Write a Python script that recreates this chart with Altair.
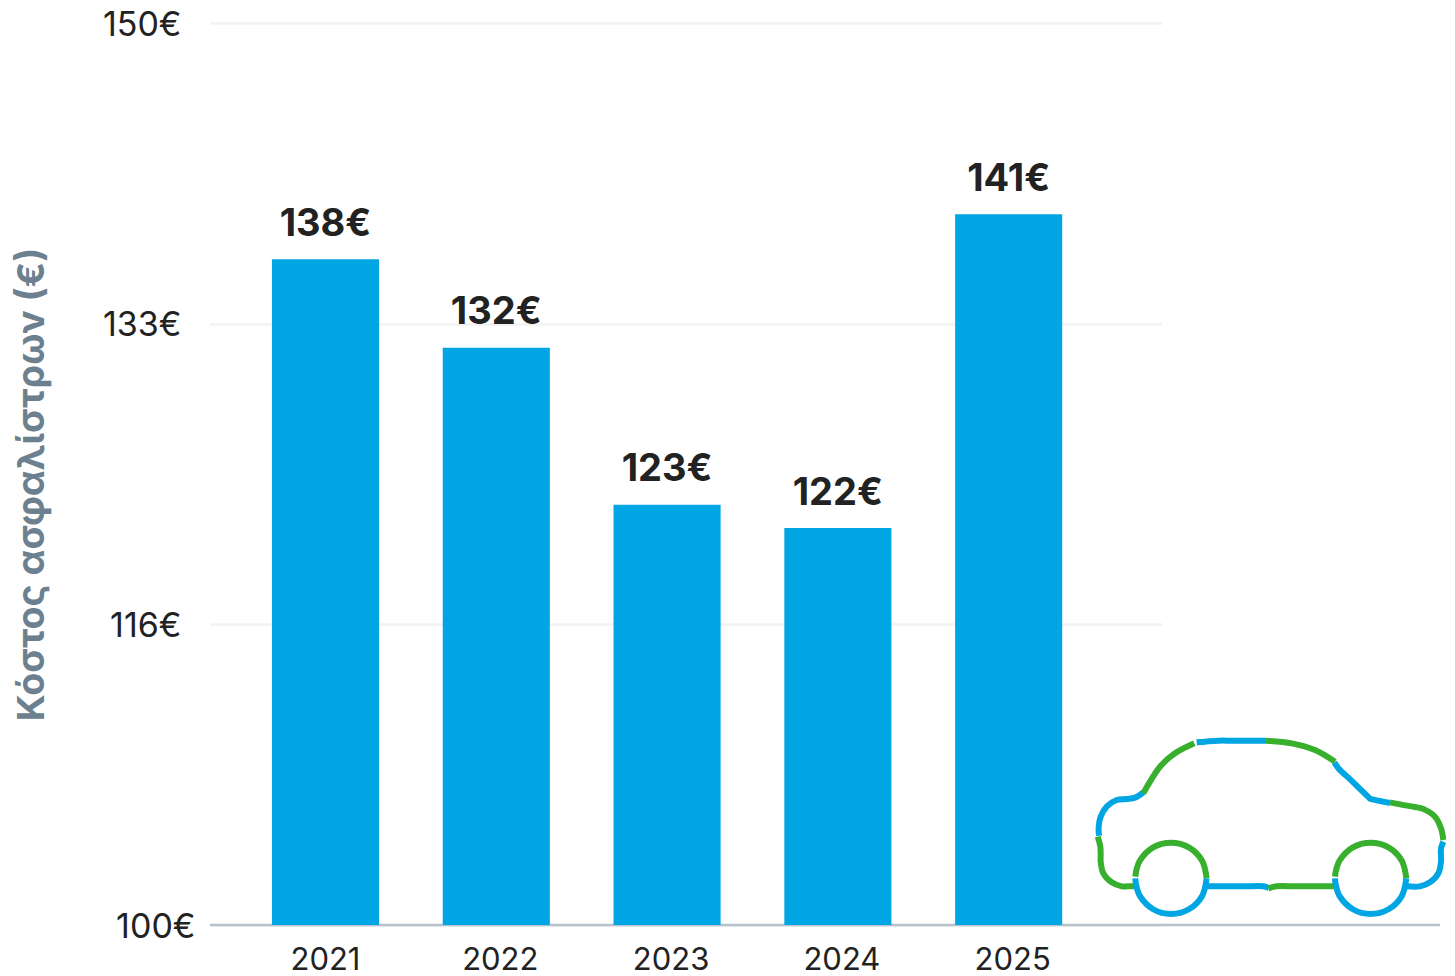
import altair as alt
import pandas as pd

years = ["2021", "2022", "2023", "2024", "2025"]
bar_values = [136.9, 132.0, 123.3, 122.0, 139.4]
bar_labels = ["138€", "132€", "123€", "122€", "141€"]
y_ticks = [100, 116.67, 133.33, 150]
y_title = "Κόστος ασφαλίστρων (€)"

BLUE = "#00a5e3"
GREEN = "#38b02e"
FONT = "Inter"

# Car icon outline, in icon units (one colored stroke per list)
wheel_top_x = [151, 155, 165, 204.5, 258, 311.5, 351, 365]
wheel_top_y = [455, 432, 406, 367, 353, 367, 406.5, 460]
wheel_bot_x = [365, 351, 311.5, 258, 204.5, 165, 153, 151]
wheel_bot_y = [460, 513.5, 552.7, 567, 552.7, 513.5, 478, 460]
wheel2_top_x = [750, 754, 764, 803.5, 857, 910.5, 950, 964]
wheel2_bot_x = [964, 950, 910.5, 857, 803.5, 764, 752, 750]

car_strokes = [
    ("b1", "blue", [175, 150, 125, 95, 65, 47, 41, 42], [202, 218, 222, 225, 245, 275, 305, 332]),
    ("g1", "green", [38, 46, 47, 47, 55, 80, 110, 130, 150], [335, 365, 390, 410, 445, 472, 484, 484, 484]),
    ("b2", "blue", [365, 420, 480, 535, 552], [484, 484, 484, 484, 489]),
    ("g2", "green", [550, 575, 630, 690, 750], [490, 484, 484, 484, 484]),
    ("b3", "blue", [963, 1005, 1035, 1060, 1068, 1068, 1075], [484, 484, 472, 445, 410, 370, 350]),
    ("g3", "green", [1075, 1068, 1050, 1015, 990, 960, 915], [345, 310, 275, 252, 246, 241, 232]),
    ("b4", "blue", [915, 885, 862, 855, 848, 820, 790, 762, 748], [234, 228, 223, 221, 214, 187, 158, 132, 112]),
    ("g4", "green", [750, 690, 620, 543], [110, 75, 55, 47]),
    ("b5", "blue", [543, 490, 440, 400, 360, 335], [47, 47, 47, 47, 50, 52]),
    ("g5", "green", [328, 270, 225, 195, 175], [55, 85, 125, 170, 205]),
    ("w1t", "green", wheel_top_x, wheel_top_y),
    ("w1b", "blue", wheel_bot_x, wheel_bot_y),
    ("w2t", "green", wheel2_top_x, wheel_top_y),
    ("w2b", "blue", wheel2_bot_x, wheel_bot_y),
]

bars_df = pd.DataFrame({"year": years, "value": bar_values, "label": bar_labels})
car_rows = []
for name, col, xs, ys in car_strokes:
    for i, (px, py) in enumerate(zip(xs, ys)):
        car_rows.append({"stroke": name, "col": col, "i": i, "cx": px, "cy": py})
car_df = pd.DataFrame(car_rows)

W, H = 952, 902
y_scale = alt.Scale(domain=[100, 150], range=[H, 0], nice=False, zero=False)
x_scale = alt.Scale(type="band", domain=years, paddingInner=0.373, paddingOuter=0.4735, align=0.383)

bars = alt.Chart(bars_df).mark_bar(color=BLUE, clip=False).encode(
    x=alt.X(
        "year:N", scale=x_scale, sort=years, title=None,
        axis=alt.Axis(
            domain=False, ticks=False, labelAngle=0, labelPadding=35,
            labelFont=FONT, labelFontSize=31, labelColor="#222222", labelBaseline="middle",
            labelOffset=alt.expr("datum.value == '2021' ? 0 : 4"),
        ),
    ),
    y=alt.Y(
        "value:Q", scale=y_scale, title=y_title,
        axis=alt.Axis(
            values=y_ticks, labelExpr="floor(datum.value) + '€'",
            domain=False, ticks=False, grid=True, gridColor="#f2f2f2", gridWidth=2.5,
            labelFont=FONT, labelFontSize=34, labelColor="#222222", labelBaseline="middle",
            labelPadding=alt.expr("datum.value == 100 ? 15 : 29"), labelOffset=2,
            titleFont=FONT, titleFontSize=37.5, titleFontWeight=700, titleColor="#6c8090",
            titleX=-178, titleY=461, titleAngle=270, titleAlign="center", titleBaseline="middle",
        ),
    ),
    y2=alt.Y2(datum=100),
)

baseline = alt.Chart(pd.DataFrame({"v": [100]})).mark_rule(color="#b8c2cd", strokeWidth=2.5).encode(
    x=alt.value(0), x2=alt.value(1230),
    y=alt.Y("v:Q", scale=y_scale, axis=None),
)

labels = alt.Chart(bars_df).mark_text(
    font=FONT, fontSize=38, fontWeight=700, color="#222222", dy=-34.5, baseline="middle"
).encode(
    x=alt.X("year:N", scale=x_scale, sort=years, axis=None),
    y=alt.Y("value:Q", scale=y_scale, axis=None),
    text="label:N",
)

car = alt.Chart(car_df).mark_line(interpolate="catmull-rom", strokeWidth=6, clip=False).encode(
    x=alt.X("cx:Q", scale=alt.Scale(domain=[-2625, 231], nice=False, zero=False), axis=None),
    y=alt.Y("cy:Q", scale=alt.Scale(domain=[-2106, 600], range=[0, H], nice=False, zero=False), axis=None),
    detail="stroke:N",
    order="i:Q",
    color=alt.Color("col:N", scale=alt.Scale(domain=["blue", "green"], range=[BLUE, GREEN]), legend=None),
)

chart = (
    alt.layer(baseline, bars, labels, car)
    .resolve_scale(x="independent", y="independent", color="independent")
    .properties(
        width=W, height=H,
        autosize=alt.AutoSizeParams(type="none"),
        padding={"left": 202, "top": 15, "right": 285, "bottom": 52},
        background="white",
    )
    .configure_view(stroke=None)
)

chart.save("out.html", embed_options={"renderer": "svg", "actions": False})
